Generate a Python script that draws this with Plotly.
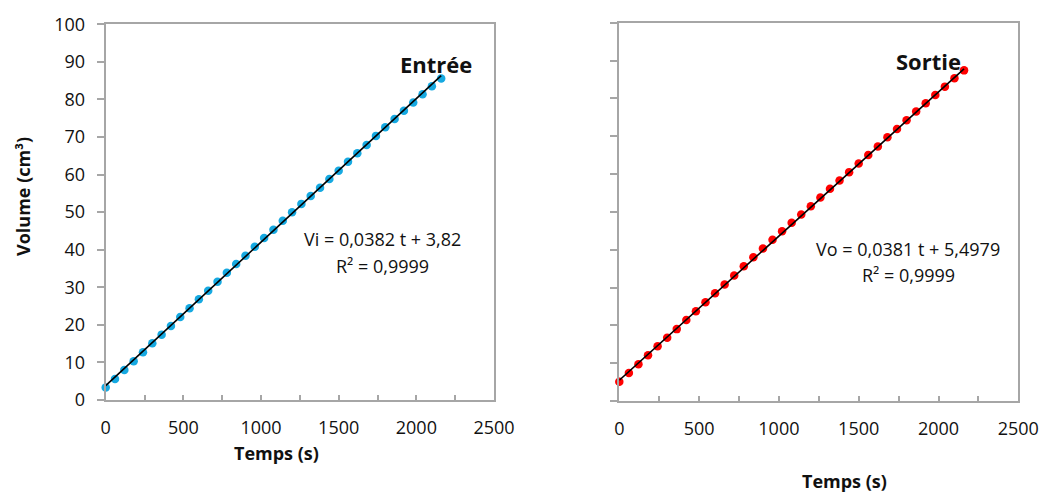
import plotly.graph_objects as go

# ---- data ----
temps_s = [0, 60, 120, 180, 240, 300, 360, 420, 480, 540, 600, 660, 720, 780, 840,
           900, 960, 1020, 1080, 1140, 1200, 1260, 1320, 1380, 1440, 1500, 1560,
           1620, 1680, 1740, 1800, 1860, 1920, 1980, 2040, 2100, 2160]

vol_entree = [3.3, 5.6, 8.0, 10.3, 12.7, 15.1, 17.4, 19.7, 22.1, 24.4, 26.8, 29.1,
              31.5, 33.9, 36.2, 38.4, 40.8, 43.1, 45.3, 47.7, 50.0, 52.2, 54.3,
              56.5, 58.8, 61.0, 63.4, 65.7, 67.9, 70.3, 72.6, 74.8, 77.0, 79.2,
              81.4, 83.5, 85.6]

vol_sortie = [5.1, 7.4, 9.7, 12.1, 14.5, 16.7, 19.0, 21.4, 23.7, 26.1, 28.5, 30.8,
              33.2, 35.6, 38.0, 40.3, 42.6, 44.9, 47.1, 49.3, 51.5, 53.8, 56.1,
              58.3, 60.5, 62.8, 65.0, 67.3, 69.7, 71.9, 74.2, 76.5, 78.7, 80.9,
              83.1, 85.3, 87.4]

# trend line equations (as printed on the chart)
fit_entree = [0.0382, 3.82]     # slope, intercept
fit_sortie = [0.0381, 5.4979]

eq_entree = ["Vi = 0,0382 t + 3,82", "R² = 0,9999"]
eq_sortie = ["Vo = 0,0381 t + 5,4979", "R² = 0,9999"]

x_ticks = [0, 500, 1000, 1500, 2000, 2500]
y_ticks = [0, 10, 20, 30, 40, 50, 60, 70, 80, 90, 100]

# ---- figure ----
W, H = 1044, 494
FONT = "Open Sans"
BLUE = "#16A9E1"
RED = "#FF0000"
AXC = "#A6A6A6"

def px(x):
    return x / W

def py(y):
    return 1 - y / H

fig = go.Figure()

t_line = [temps_s[0], temps_s[-1]]

fig.add_trace(go.Scatter(x=temps_s, y=vol_entree, mode="markers",
                         marker=dict(color=BLUE, size=8.5), cliponaxis=False,
                         xaxis="x", yaxis="y", showlegend=False))
fig.add_trace(go.Scatter(x=t_line, y=[fit_entree[0] * t + fit_entree[1] for t in t_line],
                         mode="lines", line=dict(color="black", width=1.6),
                         cliponaxis=False, xaxis="x", yaxis="y", showlegend=False))

fig.add_trace(go.Scatter(x=temps_s, y=vol_sortie, mode="markers",
                         marker=dict(color=RED, size=8.5), cliponaxis=False,
                         xaxis="x2", yaxis="y2", showlegend=False))
fig.add_trace(go.Scatter(x=t_line, y=[fit_sortie[0] * t + fit_sortie[1] for t in t_line],
                         mode="lines", line=dict(color="black", width=1.6),
                         cliponaxis=False, xaxis="x2", yaxis="y2", showlegend=False))

tickfont = dict(family=FONT, size=18, color="#111111")

def xaxis(domain, anchor):
    return dict(domain=domain, anchor=anchor, range=[0, 2500],
                tickvals=x_ticks, ticks="inside", ticklen=5, tickcolor=AXC, tickwidth=1.5,
                minor=dict(dtick=250, ticks="inside", ticklen=5, tickcolor=AXC, tickwidth=1.5),
                showline=True, linecolor=AXC, linewidth=2, mirror=True,
                showgrid=False, zeroline=False, tickfont=tickfont,
                ticklabelstandoff=10, automargin=False)

def yaxis(domain, anchor, labels):
    return dict(domain=domain, anchor=anchor, range=[0, 100],
                tickvals=y_ticks, showticklabels=labels,
                ticks="outside", ticklen=7, tickcolor=AXC, tickwidth=1.5,
                showline=True, linecolor=AXC, linewidth=2, mirror=True,
                showgrid=False, zeroline=False, tickfont=tickfont,
                ticklabelstandoff=8, automargin=False)

fig.update_layout(
    width=W, height=H,
    margin=dict(l=0, r=0, t=0, b=0),
    paper_bgcolor="white", plot_bgcolor="white",
    xaxis=xaxis([px(105.7), px(494)], "y"),
    yaxis=yaxis([py(400), py(24.3)], "x", True),
    xaxis2=xaxis([px(619.3), px(1018.3)], "y2"),
    yaxis2=yaxis([py(401), py(22.7)], "x2", False),
    font=dict(family=FONT, color="#111111"),
)

def ann(text, x, y, size=18, bold=False, angle=0):
    fig.add_annotation(text=f"<b>{text}</b>" if bold else text,
                       x=px(x), y=py(y), xref="paper", yref="paper",
                       showarrow=False, xanchor="center", yanchor="middle",
                       textangle=angle,
                       font=dict(family=FONT, size=size, color="#111111"))

# axis titles
ann("Temps (s)", 276, 453, bold=True)
ann("Temps (s)", 844, 481, bold=True)
ann("Volume (cm³)", 23, 197, bold=True, angle=-90)

# series labels
ann("Entrée", 436, 64, size=22, bold=True)
ann("Sortie", 928, 61, size=22, bold=True)

# equations
ann(eq_entree[0], 382, 239)
ann(eq_entree[1], 382, 266)
ann(eq_sortie[0], 908, 249)
ann(eq_sortie[1], 908, 275)

fig.write_html(
    "out.html",
    config={"displayModeBar": False},
    post_script="document.body.style.margin='0';document.body.style.overflow='hidden';",
)
